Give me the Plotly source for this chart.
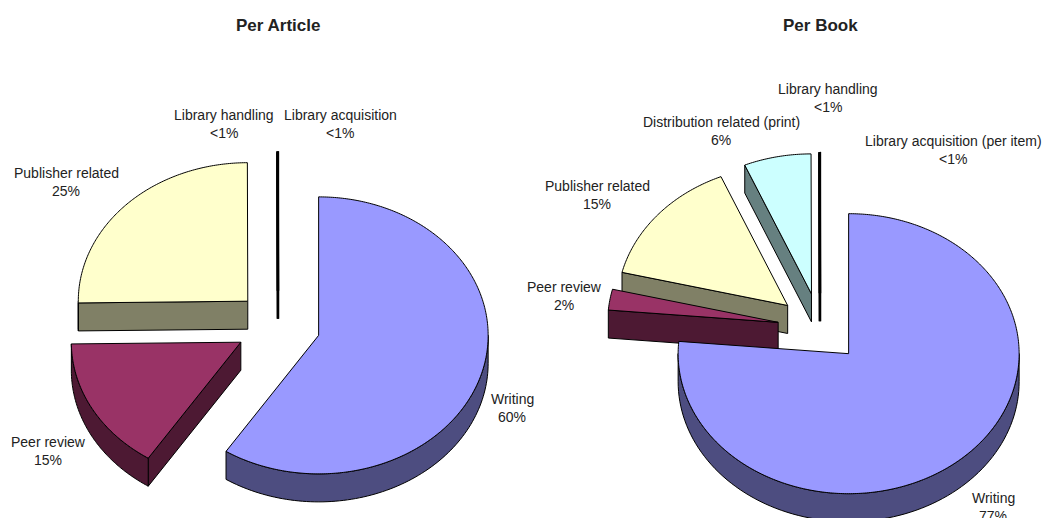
import numpy as np
import plotly.graph_objects as go

# ---- data ----
article_categories = ["Writing", "Peer review", "Publisher related", "Library handling", "Library acquisition"]
article_shares = [59.2, 15.6, 25.16, 0.02, 0.02]
article_labels = ["60%", "15%", "25%", "<1%", "<1%"]

book_categories = ["Writing", "Peer review", "Publisher related", "Distribution related (print)",
                   "Library handling", "Library acquisition (per item)"]
book_shares = [76.4, 2.4, 14.8, 6.36, 0.02, 0.02]
book_labels = ["77%", "2%", "15%", "6%", "<1%", "<1%"]

# ---- styling and layout ----
TOP = {"Writing": "#9999FF", "Peer review": "#993366", "Publisher related": "#FFFFCC",
       "Distribution related (print)": "#CCFFFF"}
SIDE = {"Writing": "#4D4D80", "Peer review": "#4D1933", "Publisher related": "#808066",
        "Distribution related (print)": "#668080"}
FONT = "Liberation Sans, Arial, sans-serif"
W, H = 1042, 518
EXPLODE, DEPTH = 42.4, 28.0
article_pie = dict(cx=278.0, cy=325.5, rx=169.5, ry=138.5)
book_pie = dict(cx=820.0, cy=328.0, rx=170.5, ry=140.0)
article_label_pos = [(512, 399), (48, 442), (66, 173), (224, 115), (340, 115)]
book_label_pos = [(993, 498), (564, 287), (597, 186), (721, 122), (828, 89), (953, 141)]
article_draw_order = [4, 3, 2, 1, 0]
book_draw_order = [5, 4, 3, 2, 1, 0]

fig = go.Figure()


def poly(xs, ys, color, width=1.0):
    fig.add_trace(go.Scatter(x=xs, y=ys, mode="lines", fill="toself", fillcolor=color,
                             line=dict(color="black", width=width, simplify=False),
                             hoverinfo="skip", showlegend=False))


def draw_pie(cats, shares, pie, order):
    RX, RY = pie["rx"], pie["ry"]
    edges = np.cumsum([0.0] + list(shares)) / sum(shares) * 360.0
    for i in order:
        t1, t2 = edges[i], edges[i + 1]
        mid = np.radians((t1 + t2) / 2)
        ox = pie["cx"] + EXPLODE * np.sin(mid)
        oy = pie["cy"] - EXPLODE * RY / RX * np.cos(mid)
        top = TOP.get(cats[i], "#000000")
        side = SIDE.get(cats[i], "#000000")
        lw = 2.4 if shares[i] < 1 else 1.0

        def pt(theta):
            a = np.radians(theta)
            return ox + RX * np.sin(a), oy - RY * np.cos(a)

        # radial walls facing the viewer
        for t, normal in ((t1, t1 - 90), (t2, t2 + 90)):
            if np.cos(np.radians(normal)) < 0:
                ex, ey = pt(t)
                poly([ox, ex, ex, ox, ox], [oy, ey, ey + DEPTH, oy + DEPTH, oy], side, lw)
        # outer wall (front half only)
        a, b = max(t1, 90), min(t2, 270)
        if b > a:
            th = np.linspace(a, b, 90)
            ax, ay = pt(th)
            poly(np.r_[ax, ax[::-1], ax[0]], np.r_[ay, ay[::-1] + DEPTH, ay[0]], side)
        # top face
        th = np.linspace(t1, t2, max(3, int((t2 - t1) * 1.5)))
        ax, ay = pt(th)
        poly(np.r_[ox, ax, ox], np.r_[oy, ay, oy], top, lw)


def label(x, y, text, size=14.0, bold=False):
    fig.add_annotation(x=x, y=y, xref="x", yref="y", text=f"<b>{text}</b>" if bold else text,
                       showarrow=False, xanchor="center", yanchor="middle",
                       font=dict(family=FONT, size=size, color="#222222"))


draw_pie(article_categories, article_shares, article_pie, article_draw_order)
draw_pie(book_categories, book_shares, book_pie, book_draw_order)

for cats, labs, pos in ((article_categories, article_labels, article_label_pos),
                        (book_categories, book_labels, book_label_pos)):
    for c, l, (x, y) in zip(cats, labs, pos):
        label(x, y, c)
        label(x, y + 18, l)

label(article_pie["cx"], 25, "Per Article", size=17, bold=True)
label(book_pie["cx"], 25, "Per Book", size=17, bold=True)

fig.update_layout(width=W, height=H, margin=dict(l=0, r=0, t=0, b=0),
                  paper_bgcolor="white", plot_bgcolor="white", showlegend=False,
                  xaxis=dict(range=[0, W], visible=False, fixedrange=True),
                  yaxis=dict(range=[H, 0], visible=False, fixedrange=True))

fig.write_html("out.html", config={"displayModeBar": False},
               post_script="document.body.style.margin='0';document.body.style.overflow='hidden';")
